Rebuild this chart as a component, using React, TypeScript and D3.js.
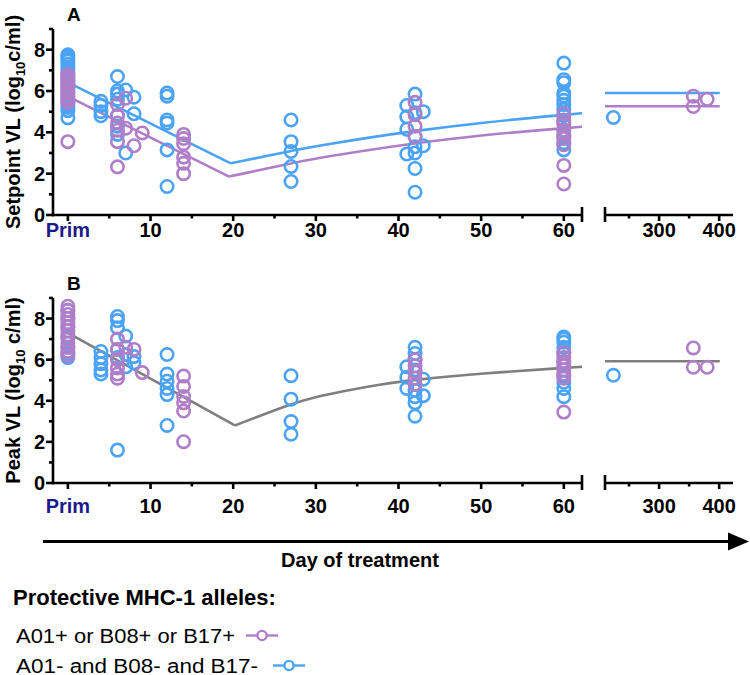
import * as d3 from "d3";

const W = 750;
const H = 675;
const BLUE = "#4ba3f5";
const PURPLE = "#b07ec8";
const GREY = "#7f7f7f";
const NAVY = "#1b1b8c";
const FONT = "'Liberation Sans', Arial, sans-serif";

// [day, log10 copies/ml]
const setpointBlue: [number, number][] = [
  [0, 7.75], [0, 7.65], [0, 7.55], [0, 7.45], [0, 7.3], [0, 7.15], [0, 7.0], [0, 6.85],
  [0, 6.7], [0, 6.55], [0, 6.4], [0, 6.25], [0, 6.1], [0, 5.95], [0, 5.8], [0, 5.65],
  [0, 5.5], [0, 5.35], [0, 5.2], [0, 5.05], [0, 4.7],
  [4, 5.5], [4, 5.3], [4, 5.0], [4, 4.8],
  [6, 6.7], [6, 6.0], [6, 5.85], [6, 5.6], [6, 4.8], [6, 4.3], [6, 3.9],
  [7, 6.05], [7, 3.0], [8, 5.7], [8, 4.9],
  [12, 5.9], [12, 5.75], [12, 4.6], [12, 4.45], [12, 3.15], [12, 1.38],
  [27, 4.6], [27, 3.55], [27, 3.07], [27, 2.35], [27, 1.62],
  [41, 5.3], [41, 4.75], [41, 4.15], [41, 2.95], [43, 5.0], [43, 3.35],
  [42, 5.85], [42, 4.95], [42, 3.8], [42, 3.3], [42, 3.0], [42, 2.25], [42, 1.1],
  [60, 7.35], [60, 6.55], [60, 6.4], [60, 5.9], [60, 5.75], [60, 5.55], [60, 5.35],
  [60, 5.1], [60, 4.8], [60, 4.5], [60, 4.1], [60, 3.8], [60, 3.5], [60, 3.15],
  [224, 4.72],
];
const setpointPurple: [number, number][] = [
  [0, 6.8], [0, 6.65], [0, 6.5], [0, 6.35], [0, 6.2], [0, 6.05], [0, 5.9], [0, 5.75],
  [0, 5.6], [0, 5.45], [0, 3.55],
  [6, 5.35], [6, 4.8], [6, 4.45], [6, 4.1], [6, 3.55], [6, 2.33],
  [7, 5.65], [7, 4.2], [8, 3.35], [9, 3.97],
  [14, 3.9], [14, 3.7], [14, 3.45], [14, 2.8], [14, 2.5], [14, 2.0],
  [42, 5.45], [42, 4.85], [42, 4.3], [42, 3.8],
  [60, 4.9], [60, 4.6], [60, 4.4], [60, 4.1], [60, 3.9], [60, 3.7], [60, 3.4], [60, 2.4], [60, 1.5],
  [357, 5.75], [357, 5.25], [380, 5.6],
];
const peakBlue: [number, number][] = [
  [0, 8.4], [0, 8.0], [0, 7.6], [0, 7.1], [0, 6.6], [0, 6.3], [0, 6.1],
  [4, 6.4], [4, 6.1], [4, 5.8], [4, 5.5], [4, 5.3],
  [6, 8.1], [6, 7.9], [6, 7.55], [6, 6.5], [6, 6.1], [6, 1.6],
  [7, 7.15], [7, 6.25], [7, 5.65], [8, 6.15], [8, 5.85],
  [12, 6.25], [12, 5.3], [12, 4.95], [12, 4.6], [12, 4.3], [12, 2.8],
  [27, 5.22], [27, 4.08], [27, 2.99], [27, 2.37],
  [41, 5.65], [41, 5.15], [41, 4.6], [43, 5.05], [43, 4.25],
  [42, 6.6], [42, 6.3], [42, 6.0], [42, 5.5], [42, 4.5], [42, 4.2], [42, 3.9], [42, 3.25],
  [60, 7.1], [60, 7.0], [60, 6.85], [60, 6.6], [60, 6.3], [60, 5.9], [60, 5.2], [60, 4.9], [60, 4.6], [60, 4.2],
  [224, 5.24],
];
const peakPurple: [number, number][] = [
  [0, 8.6], [0, 8.4], [0, 8.2], [0, 8.0], [0, 7.8], [0, 7.6], [0, 7.4], [0, 7.2],
  [0, 7.0], [0, 6.8], [0, 6.6], [0, 6.4], [0, 6.2],
  [6, 7.0], [6, 6.5], [6, 6.0], [6, 5.6], [6, 5.3], [6, 5.1],
  [7, 6.6], [8, 6.5], [9, 5.37],
  [14, 5.2], [14, 4.7], [14, 4.21], [14, 3.9], [14, 3.5], [14, 2.01],
  [42, 6.0], [42, 5.7], [42, 5.4], [42, 5.1], [42, 4.8],
  [60, 6.35], [60, 6.1], [60, 5.9], [60, 5.7], [60, 5.5], [60, 5.3], [60, 5.1], [60, 3.45],
  [357, 6.57], [357, 5.63], [380, 5.63],
];

// fitted curves: decline to nadir, then recovery
const setpointBlueFall: [number, number][] = [[0, 6.42], [19.7, 2.5]];
const setpointBlueRise: [number, number][] = [
  [19.7, 2.5], [27, 3.1], [30, 3.33], [36.4, 3.75], [42, 4.07], [50, 4.47], [60, 4.85], [62.2, 4.92],
];
const setpointPurpleFall: [number, number][] = [[0, 5.74], [19.5, 1.86]];
const setpointPurpleRise: [number, number][] = [
  [19.5, 1.86], [27, 2.5], [30, 2.74], [36.4, 3.15], [42, 3.47], [50, 3.87], [60, 4.2], [62.2, 4.27],
];
const peakFall: [number, number][] = [[0, 7.3], [20.2, 2.8]];
const peakRise: [number, number][] = [
  [20.2, 2.8], [27, 3.85], [30, 4.2], [36.4, 4.72], [42, 5.03], [50, 5.33], [60, 5.6], [62.2, 5.65],
];
const LATE_RANGE = [210, 401];
const setpointBlueLate = 5.9;
const setpointPurpleLate = 5.26;
const peakLate = 5.92;

const earlyTicks = [0, 10, 20, 30, 40, 50, 60];
const earlyMinor = [5, 15, 25, 35, 45, 55];
const lateTicks = [300, 400];
const lateMinor = [250, 350];
const yTicks = [0, 2, 4, 6, 8];
const yMinor = [1, 3, 5, 7, 9];

const xEarly = d3.scaleLinear().domain([-1.8, 62.2]).range([53, 582]);
const xLate = d3.scaleLinear().domain([210, 423]).range([605, 733]);
const xPos = (d: number) => (d > 100 ? xLate(d) : xEarly(d));

function Panel({
  top,
  bottom,
  labelGap,
  letter,
  title,
  blue,
  purple,
  fits,
}: {
  top: number;
  bottom: number;
  labelGap: number;
  letter: string;
  title: [string, string];
  blue: [number, number][];
  purple: [number, number][];
  fits: { fall: [number, number][]; rise: [number, number][]; late: number; color: string }[];
}) {
  const y = d3.scaleLinear().domain([0, 9]).range([bottom, top]);
  const straight = d3
    .line<[number, number]>()
    .x((d) => xEarly(d[0]))
    .y((d) => y(d[1]));
  const curve = d3
    .line<[number, number]>()
    .x((d) => xEarly(d[0]))
    .y((d) => y(d[1]))
    .curve(d3.curveBasis);
  const mid = (top + bottom) / 2;
  return (
    <g>
      <text x={67} y={top - 8} fontSize={19} fontWeight="bold" fontFamily={FONT}>
        {letter}
      </text>
      <text
        transform={`translate(20,${mid}) rotate(-90)`}
        textAnchor="middle"
        fontSize={20}
        fontWeight="bold"
        fontFamily={FONT}
      >
        {title[0]}
        <tspan fontSize={13} dy={5}>10</tspan>
        <tspan dy={-5}>{title[1]}</tspan>
      </text>
      {fits.map((f, i) => (
        <g key={i} stroke={f.color} strokeWidth={2.6} fill="none">
          <path d={straight(f.fall) ?? ""} />
          <path d={curve(f.rise) ?? ""} />
          <line x1={xLate(LATE_RANGE[0])} x2={xLate(LATE_RANGE[1])} y1={y(f.late)} y2={y(f.late)} />
        </g>
      ))}
      {blue.map((d, i) => (
        <circle key={`b${i}`} cx={xPos(d[0])} cy={y(d[1])} r={6.2} fill="none" stroke={BLUE} strokeWidth={2.6} />
      ))}
      {purple.map((d, i) => (
        <circle key={`p${i}`} cx={xPos(d[0])} cy={y(d[1])} r={6.2} fill="none" stroke={PURPLE} strokeWidth={2.6} />
      ))}
      <g stroke="#000" strokeWidth={2.6}>
        <line x1={53} x2={53} y1={y(9)} y2={bottom + 1.3} />
        {yTicks.map((t) => (
          <line key={t} x1={46} x2={53} y1={y(t)} y2={y(t)} />
        ))}
        {yMinor.map((t) => (
          <line key={t} x1={49} x2={53} y1={y(t)} y2={y(t)} />
        ))}
        <line x1={52} x2={xEarly(62.2)} y1={bottom} y2={bottom} />
        <line x1={xEarly(62.2)} x2={xEarly(62.2)} y1={bottom - 8} y2={bottom + 7} />
        {earlyTicks.map((t) => (
          <line key={t} x1={xEarly(t)} x2={xEarly(t)} y1={bottom} y2={bottom + 6} />
        ))}
        {earlyMinor.map((t) => (
          <line key={t} x1={xEarly(t)} x2={xEarly(t)} y1={bottom} y2={bottom + 3.5} />
        ))}
        <line x1={xLate(210)} x2={xLate(423)} y1={bottom} y2={bottom} />
        <line x1={xLate(210)} x2={xLate(210)} y1={bottom - 8} y2={bottom + 7} />
        {lateTicks.map((t) => (
          <line key={t} x1={xLate(t)} x2={xLate(t)} y1={bottom} y2={bottom + 6} />
        ))}
        {lateMinor.map((t) => (
          <line key={t} x1={xLate(t)} x2={xLate(t)} y1={bottom} y2={bottom + 3.5} />
        ))}
      </g>
      <g fontFamily={FONT} fontWeight="bold" fontSize={20}>
        {yTicks.map((t) => (
          <text key={t} x={45} y={y(t) + 7} textAnchor="end">
            {t}
          </text>
        ))}
        {earlyTicks.map((t) => (
          <text key={t} x={xEarly(t)} y={bottom + labelGap} textAnchor="middle" fill={t === 0 ? NAVY : "#000"}>
            {t === 0 ? "Prim" : t}
          </text>
        ))}
        {lateTicks.map((t) => (
          <text key={t} x={xLate(t)} y={bottom + labelGap} textAnchor="middle">
            {t}
          </text>
        ))}
      </g>
    </g>
  );
}

export default function App() {
  return (
    <svg width={W} height={H} style={{ display: "block", position: "absolute", left: 0, top: 0 }}>
      <rect width={W} height={H} fill="#fff" />
      <Panel
        top={29}
        bottom={215}
        labelGap={22}
        letter="A"
        title={["Setpoint VL (log", "c/ml)"]}
        blue={setpointBlue}
        purple={setpointPurple}
        fits={[
          { fall: setpointBlueFall, rise: setpointBlueRise, late: setpointBlueLate, color: BLUE },
          { fall: setpointPurpleFall, rise: setpointPurpleRise, late: setpointPurpleLate, color: PURPLE },
        ]}
      />
      <Panel
        top={298}
        bottom={483}
        labelGap={30}
        letter="B"
        title={["Peak VL (log", " c/ml)"]}
        blue={peakBlue}
        purple={peakPurple}
        fits={[{ fall: peakFall, rise: peakRise, late: peakLate, color: GREY }]}
      />
      <line x1={43} x2={730} y1={541.5} y2={541.5} stroke="#000" strokeWidth={3.2} />
      <path d="M728,532.5 L749,541.5 L728,550.5 Z" fill="#000" />
      <text x={360} y={567} textAnchor="middle" fontFamily={FONT} fontWeight="bold" fontSize={20}>
        Day of treatment
      </text>
      <text x={13} y={605} fontFamily={FONT} fontWeight="bold" fontSize={22}>
        Protective MHC-1 alleles:
      </text>
      <text x={16} y={643} fontFamily={FONT} fontSize={20} textLength={219} lengthAdjust="spacingAndGlyphs">
        A01+ or B08+ or B17+
      </text>
      <g stroke={PURPLE} strokeWidth={2.4} fill="none">
        <line x1={246} x2={278} y1={635.5} y2={635.5} />
        <circle cx={262} cy={635.5} r={4.6} fill="#fff" />
      </g>
      <text x={16} y={672.5} fontFamily={FONT} fontSize={20} textLength={242} lengthAdjust="spacingAndGlyphs">
        A01- and B08- and B17-
      </text>
      <g stroke={BLUE} strokeWidth={2.4} fill="none">
        <line x1={273} x2={305} y1={665.5} y2={665.5} />
        <circle cx={289} cy={665.5} r={4.6} fill="#fff" />
      </g>
    </svg>
  );
}
